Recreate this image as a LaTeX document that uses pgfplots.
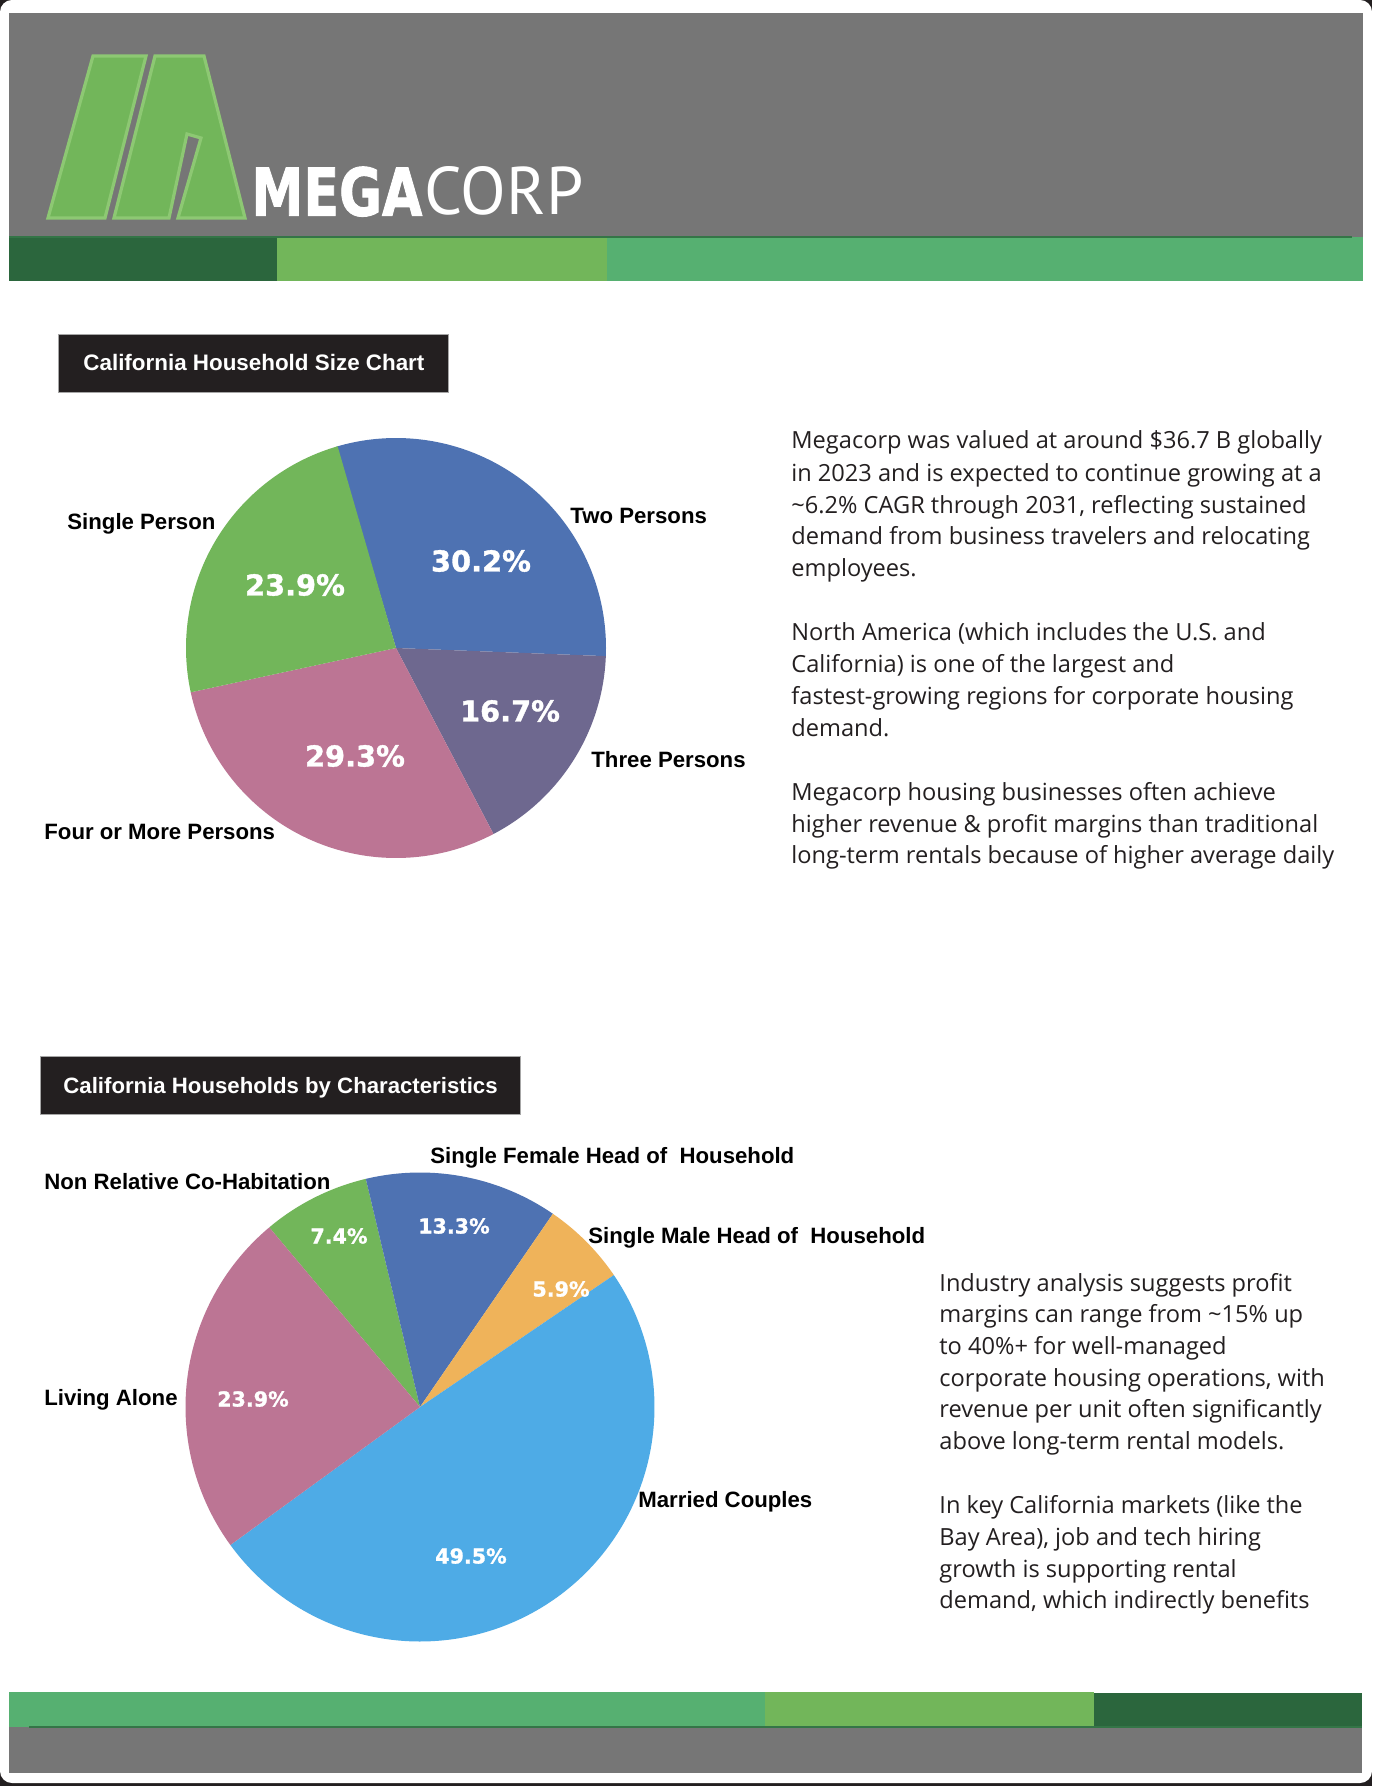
\documentclass[border=0pt]{standalone}
\usepackage{pgfplots}
\pgfplotsset{compat=1.18}
\usepackage{fontspec}
\setmainfont{Liberation Sans}
\newfontfamily\pctfont{DejaVu Sans}[BoldFeatures={FakeBold=1.2}]
\newfontfamily\megafont{DejaVu Sans}[BoldFeatures={FakeBold=1.5}]
\newfontfamily\bodyfont{Open Sans}
\newfontfamily\corpfont{PT Sans}
\definecolor{hdrgray}{HTML}{767676}
\definecolor{dkgreen}{HTML}{2B663D}
\definecolor{ltgreen}{HTML}{72B65A}
\definecolor{mdgreen}{HTML}{56B071}
\definecolor{logoline}{HTML}{8DC873}
\definecolor{boxblack}{HTML}{231F20}
\definecolor{cblue}{HTML}{4E72B2}
\definecolor{cpurple}{HTML}{6E688F}
\definecolor{cpink}{HTML}{BC7594}
\definecolor{corange}{HTML}{EFB35A}
\definecolor{clblue}{HTML}{4EABE6}
\definecolor{txt}{HTML}{231F20}
\begin{document}
\begin{tikzpicture}[x=0.5pt,y=0.5pt,
  lbl/.style={anchor=base west, inner sep=0, text=black, font=\bfseries\fontsize{11.1}{13}\selectfont},
  pctA/.style={inner sep=0, text=white, font=\pctfont\bfseries\fontsize{14.4}{16}\selectfont},
  pctB/.style={inner sep=0, text=white, font=\pctfont\bfseries\fontsize{10.3}{12}\selectfont},
  body/.style={anchor=base west, inner sep=0, text=txt, font=\bodyfont\fontsize{11.8}{14}\selectfont}]
% page
\fill[boxblack] (0,0) rectangle (1372,-1786);
\fill[white, rounded corners=6pt] (0,0) rectangle (1372,-1783);
% header
\fill[hdrgray] (9,-13) rectangle (1363,-237);
\fill[dkgreen] (9,-237) rectangle (277,-281);
\fill[ltgreen] (277,-237) rectangle (607,-281);
\fill[mdgreen] (607,-237) rectangle (1363,-281);
\draw[dkgreen!80!mdgreen, line width=0.6pt] (9,-237) -- (1352,-237);
% logo
\filldraw[fill=ltgreen, draw=logoline, line width=1.6pt, line join=miter]
  (48,-218) -- (93,-56) -- (146,-56) -- (105,-218) -- cycle;
\filldraw[fill=ltgreen, draw=logoline, line width=1.6pt, line join=miter]
  (114,-218) -- (155,-56) -- (204,-56) -- (245,-218) -- (178,-218) -- (201,-138) -- (187,-134) -- (169,-218) -- cycle;
\node[anchor=south west, inner sep=0, text=white] at (251,-217) {\resizebox{85.5pt}{24.5pt}{\megafont\bfseries MEGA}};
\node[anchor=south west, inner sep=0, text=white] at (424,-216) {\resizebox{79.5pt}{24pt}{\corpfont CORP}};
% footer
\fill[mdgreen] (9,-1692) rectangle (765,-1727);
\fill[ltgreen] (765,-1692) rectangle (1094,-1727);
\fill[dkgreen] (1094,-1693) rectangle (1362,-1727);
\fill[hdrgray] (9,-1727) rectangle (1362,-1773);
\draw[dkgreen!80!mdgreen, line width=0.6pt] (29,-1727) -- (1362,-1727);
% title boxes
\filldraw[fill=boxblack, draw=gray!70, line width=0.3pt] (58,-334) rectangle (448,-392);
\node[anchor=base west, inner sep=0, text=white, font=\bfseries\fontsize{11.2}{13}\selectfont] at (83,-371) {California Household Size Chart};
\filldraw[fill=boxblack, draw=gray!70, line width=0.3pt] (40,-1056) rectangle (520,-1114);
\node[anchor=base west, inner sep=0, text=white, font=\bfseries\fontsize{11.1}{13}\selectfont] at (63,-1093) {California Households by Characteristics};
% pie 1 data (percent)
\pgfmathsetmacro\pa{106.5}
\pgfmathsetmacro\pb{\pa-3.6*30.2}
\pgfmathsetmacro\pc{\pb-3.6*16.7}
\pgfmathsetmacro\pd{\pc-3.6*29.3}
\pgfmathsetmacro\pe{\pd-3.6*23.9}
\begin{axis}[at={(198pt,-324pt)}, anchor=center, scale only axis, width=210pt, height=210pt,
  xmin=-1, xmax=1, ymin=-1, ymax=1, hide axis, clip=false]
\addplot[fill=cblue, draw=none, domain=\pb:\pa, samples=100] ({cos(x)},{sin(x)}) -- (axis cs:0,0) -- cycle;
\addplot[fill=cpurple, draw=none, domain=\pc:\pb, samples=60] ({cos(x)},{sin(x)}) -- (axis cs:0,0) -- cycle;
\addplot[fill=cpink, draw=none, domain=\pd:\pc, samples=100] ({cos(x)},{sin(x)}) -- (axis cs:0,0) -- cycle;
\addplot[fill=ltgreen, draw=none, domain=\pe:\pd, samples=80] ({cos(x)},{sin(x)}) -- (axis cs:0,0) -- cycle;
\end{axis}
\node[lbl] at (570,-523) {Two Persons};
\node[lbl] at (67,-529) {Single Person};
\node[lbl] at (591,-767) {Three Persons};
\node[lbl] at (44,-839) {Four or More Persons};
\node[pctA] at (481,-561) {30.2\%};
\node[pctA] at (295,-585) {23.9\%};
\node[pctA] at (510,-711) {16.7\%};
\node[pctA] at (355,-756) {29.3\%};
% pie 2 data (percent)
\pgfmathsetmacro\qa{130}
\pgfmathsetmacro\qb{\qa-3.6*7.4}
\pgfmathsetmacro\qc{\qb-3.6*13.3}
\pgfmathsetmacro\qd{\qc-3.6*5.9}
\pgfmathsetmacro\qe{\qd-3.6*49.5}
\pgfmathsetmacro\qf{\qe-3.6*23.9}
\begin{axis}[at={(210pt,-703.5pt)}, anchor=center, scale only axis, width=234.5pt, height=234.5pt,
  xmin=-1, xmax=1, ymin=-1, ymax=1, hide axis, clip=false]
\addplot[fill=ltgreen, draw=none, domain=\qb:\qa, samples=40] ({cos(x)},{sin(x)}) -- (axis cs:0,0) -- cycle;
\addplot[fill=cblue, draw=none, domain=\qc:\qb, samples=60] ({cos(x)},{sin(x)}) -- (axis cs:0,0) -- cycle;
\addplot[fill=corange, draw=none, domain=\qd:\qc, samples=30] ({cos(x)},{sin(x)}) -- (axis cs:0,0) -- cycle;
\addplot[fill=clblue, draw=none, domain=\qe:\qd, samples=150] ({cos(x)},{sin(x)}) -- (axis cs:0,0) -- cycle;
\addplot[fill=cpink, draw=none, domain=\qf:\qe, samples=90] ({cos(x)},{sin(x)}) -- (axis cs:0,0) -- cycle;
\end{axis}
\node[lbl] at (430,-1163) {Single Female Head of\ \ Household};
\node[lbl] at (44,-1189) {Non Relative Co-Habitation};
\node[lbl] at (588,-1243) {Single Male Head of\ \ Household};
\node[lbl] at (44,-1405) {Living Alone};
\node[lbl] at (638,-1507) {Married Couples};
\node[pctB] at (339,-1236) {7.4\%};
\node[pctB] at (454,-1226) {13.3\%};
\node[pctB] at (561,-1289) {5.9\%};
\node[pctB] at (253,-1399) {23.9\%};
\node[pctB] at (471,-1556) {49.5\%};
% body text
\node[body] at (791,-449) {Megacorp was valued at around \$36.7 B globally};
\node[body] at (791,-481) {in 2023 and is expected to continue growing at a};
\node[body] at (791,-513) {\textasciitilde6.2\% CAGR through 2031, reflecting sustained};
\node[body] at (791,-544.5) {demand from business travelers and relocating};
\node[body] at (791,-576.5) {employees.};
\node[body] at (791,-640.7) {North America (which includes the U.S. and};
\node[body] at (791,-672.5) {California) is one of the largest and};
\node[body] at (791,-704.3) {fastest-growing regions for corporate housing};
\node[body] at (791,-736) {demand.};
\node[body] at (791,-800) {Megacorp housing businesses often achieve};
\node[body] at (791,-832) {higher revenue \& profit margins than traditional};
\node[body] at (791,-863.5) {long-term rentals because of higher average daily};
\node[body] at (939,-1291) {Industry analysis suggests profit};
\node[body] at (939,-1322.7) {margins can range from \textasciitilde15\% up};
\node[body] at (939,-1354.4) {to 40\%+ for well-managed};
\node[body] at (939,-1386) {corporate housing operations, with};
\node[body] at (939,-1417.8) {revenue per unit often significantly};
\node[body] at (939,-1449.5) {above long-term rental models.};
\node[body] at (939,-1513.5) {In key California markets (like the};
\node[body] at (939,-1545.2) {Bay Area), job and tech hiring};
\node[body] at (939,-1577) {growth is supporting rental};
\node[body] at (939,-1608.7) {demand, which indirectly benefits};
\end{tikzpicture}
\end{document}
